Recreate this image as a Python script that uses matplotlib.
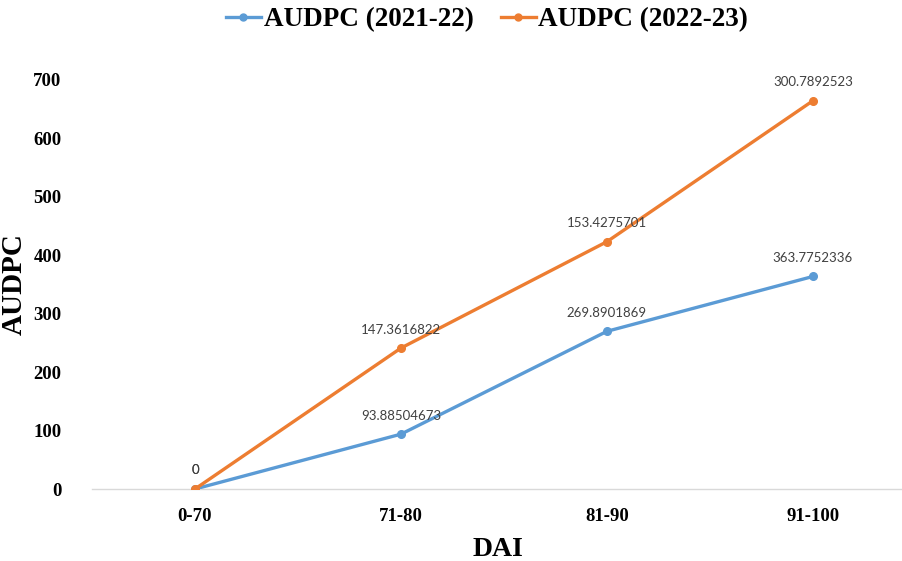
import numpy as np
import matplotlib.pyplot as plt
from matplotlib.lines import Line2D

categories = ['0-70', '71-80', '81-90', '91-100']
audpc_2021 = [0, 93.88504673, 269.8901869, 363.7752336]
audpc_2022 = [0, 147.3616822, 153.4275701, 300.7892523]
series_names = ['AUDPC (2021-22)', 'AUDPC (2022-23)']
yticks = [0, 100, 200, 300, 400, 500, 600, 700]

BLUE = '#5B9BD5'
ORANGE = '#ED7D31'
SERIF = 'Liberation Serif'
LABEL_FONT = 'Lato'


def main():
    fig = plt.figure(figsize=(9.03, 5.61), dpi=100)
    ax = fig.add_axes([92 / 903, 72 / 561, 811 / 903, 409 / 561])

    x = np.arange(len(categories))
    # excel-style stacked line: second series sits on top of the first
    y1 = np.array(audpc_2021)
    y2 = y1 + np.array(audpc_2022)

    ax.plot(x, y1, color=BLUE, lw=2.4, marker='o', ms=5.5, zorder=3)
    ax.plot(x, y2, color=ORANGE, lw=2.4, marker='o', ms=5.5, zorder=3)

    for xi, yi, v in zip(x, y1, audpc_2021):
        ax.annotate(f'{v:.10g}', (xi, yi), xytext=(0, 9),
                    textcoords='offset points', ha='center', va='bottom',
                    fontsize=9.5, family=LABEL_FONT, color='#404040')
    for xi, yi, v in zip(x, y2, audpc_2022):
        ax.annotate(f'{v:.10g}', (xi, yi), xytext=(0, 9),
                    textcoords='offset points', ha='center', va='bottom',
                    fontsize=9.5, family=LABEL_FONT, color='#404040')

    ax.set_xlim(-0.5, 3.437)
    ax.set_ylim(0, 700)
    ax.set_xticks(x)
    ax.set_xticklabels(categories)
    ax.set_yticks(yticks)
    for lab in ax.get_xticklabels() + ax.get_yticklabels():
        lab.set_family(SERIF)
        lab.set_fontweight('bold')
        lab.set_fontsize(13.5)
    ax.tick_params(length=0)
    ax.tick_params(axis='x', pad=14)
    ax.tick_params(axis='y', pad=22)

    for s in ['top', 'right', 'left']:
        ax.spines[s].set_visible(False)
    ax.spines['bottom'].set_color('#D9D9D9')
    ax.spines['bottom'].set_linewidth(1.0)

    ax.set_xlabel('DAI', family=SERIF, fontweight='bold', fontsize=20, labelpad=8)
    ax.set_ylabel('AUDPC', family=SERIF, fontweight='bold', fontsize=21, labelpad=4)

    handles = [Line2D([], [], color=BLUE, lw=2.4, marker='o', ms=5),
               Line2D([], [], color=ORANGE, lw=2.4, marker='o', ms=5)]
    fig.legend(handles, series_names, loc='center', bbox_to_anchor=(487 / 903, 1 - 20 / 561),
               ncol=2, frameon=False, handlelength=1.3, handletextpad=0.1, columnspacing=1.0,
               prop={'family': SERIF, 'weight': 'bold', 'size': 19.5})

    fig.savefig('out.png', dpi=100)
    plt.close(fig)


if __name__ == '__main__':
    main()
